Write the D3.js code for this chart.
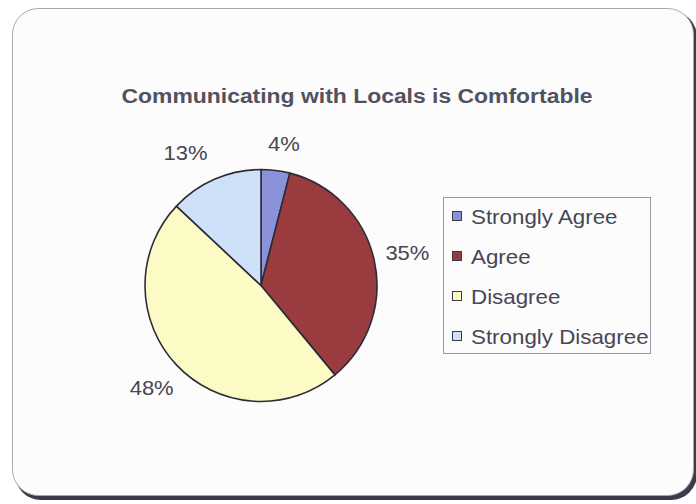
<!DOCTYPE html>
<html>
<head>
<meta charset="utf-8">
<script src="https://cdn.jsdelivr.net/npm/d3@7"></script>
<style>
  html, body { margin: 0; padding: 0; background: #ffffff; }
  svg { display: block; font-family: "Liberation Sans", Arial, sans-serif; }
</style>
</head>
<body>
<svg id="chart" width="696" height="504"></svg>
<script>
const categories = ['Strongly Agree', 'Agree', 'Disagree', 'Strongly Disagree'];
const values = [4, 35, 48, 13];
const colors = ['#8a93da', '#9a3c3f', '#fcfbc6', '#cfe1f8'];
const chartTitle = 'Communicating with Locals is Comfortable';

const svg = d3.select('#chart');

// card with dark shadow on bottom / right
svg.append('rect')
  .attr('x', 15).attr('y', 11)
  .attr('width', 682).attr('height', 489)
  .attr('rx', 26)
  .attr('fill', '#3b3b4c');
svg.append('rect')
  .attr('x', 12.5).attr('y', 8.5)
  .attr('width', 681).attr('height', 487)
  .attr('rx', 26)
  .attr('fill', '#fcfcfd')
  .attr('stroke', '#a7a7b0')
  .attr('stroke-width', 1);

svg.append('text')
  .attr('x', 357).attr('y', 103)
  .attr('text-anchor', 'middle')
  .attr('font-size', 20)
  .attr('font-weight', 'bold')
  .attr('fill', '#52525e')
  .attr('textLength', 471)
  .attr('lengthAdjust', 'spacingAndGlyphs')
  .text(chartTitle);

// pie
const cx = 261, cy = 285.5, radius = 116;
const color = d3.scaleOrdinal().domain(categories).range(colors);
const pie = d3.pie().sort(null).value(d => d.value);
const data = categories.map((name, i) => ({ name, value: values[i] }));
const arcs = pie(data);
const arc = d3.arc().innerRadius(0).outerRadius(radius);
const labelArc = d3.arc().innerRadius(150).outerRadius(150);
const total = d3.sum(values);

const g = svg.append('g').attr('transform', 'translate(' + cx + ',' + cy + ')');
g.selectAll('path.slice')
  .data(arcs)
  .enter()
  .append('path')
  .attr('class', 'slice')
  .attr('d', arc)
  .attr('fill', d => color(d.data.name))
  .attr('stroke', '#2c2c38')
  .attr('stroke-width', 1.6)
  .attr('stroke-linejoin', 'round');

g.selectAll('text.lbl')
  .data(arcs)
  .enter()
  .append('text')
  .attr('class', 'lbl')
  .attr('transform', function(d) {
    const p = labelArc.centroid(d);
    // nudge the small slice labels like the original
    if (d.data.name === 'Strongly Disagree') { p[0] -= 16; p[1] += 5; }
    if (d.data.name === 'Strongly Agree') { p[0] += 4; p[1] += 7; }
    return 'translate(' + p[0] + ',' + p[1] + ') scale(1.1,1)';
  })
  .attr('text-anchor', 'middle')
  .attr('dy', '0.36em')
  .attr('font-size', 20)
  .attr('fill', '#474751')
  .text(d => Math.round(d.data.value / total * 100) + '%');

// legend
const legend = svg.append('g').attr('transform', 'translate(443,197)');
legend.append('rect')
  .attr('x', 0.5).attr('y', 0.5)
  .attr('width', 207).attr('height', 156)
  .attr('fill', '#fcfcfd')
  .attr('stroke', '#9a9aa5')
  .attr('stroke-width', 1);

const ly = d3.scalePoint().domain(categories).range([19, 139]);
const item = legend.selectAll('g.item')
  .data(categories)
  .enter()
  .append('g')
  .attr('class', 'item')
  .attr('transform', d => 'translate(0,' + ly(d) + ')');
item.append('rect')
  .attr('x', 9.5).attr('y', -4.5)
  .attr('width', 9).attr('height', 9)
  .attr('fill', d => color(d))
  .attr('stroke', '#3a3a48')
  .attr('stroke-width', 1);
item.append('text')
  .attr('transform', 'translate(28,8) scale(1.09,1)')
  .attr('font-size', 20.5)
  .attr('fill', '#474754')
  .text(d => d);
</script>
</body>
</html>
